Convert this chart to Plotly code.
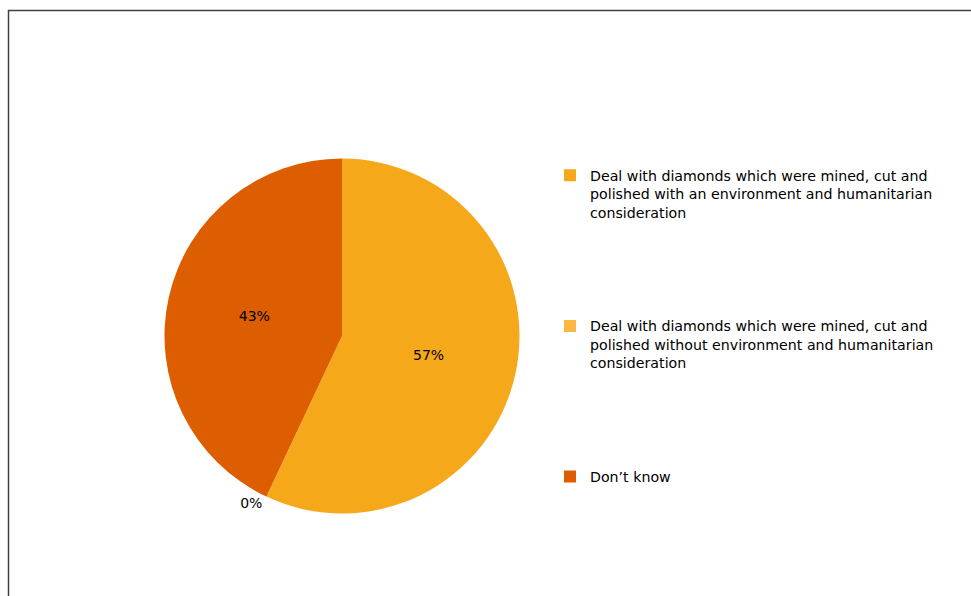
import plotly.graph_objects as go

# Survey answers and their shares (%)
labels = [
    "Deal with diamonds which were mined, cut and<br>polished with an environment and humanitarian<br>consideration",
    "Deal with diamonds which were mined, cut and<br>polished without environment and humanitarian<br>consideration",
    "Don\u2019t know",
]
values = [57, 0, 43]
colors = ["#F5A81A", "#FBB73F", "#DD5E00"]
text_positions = ["inside", "outside", "inside"]

# pad every legend entry but the last with blank lines so the entries sit evenly spaced
legend_lines = 8
legend_names = [
    l + ("<br> " * (legend_lines - 1 - l.count("<br>")) if i < len(labels) - 1 else "")
    for i, l in enumerate(labels)
]

W, H = 971, 596
cx, cy, r = 342, 336, 177.5
FONT = "DejaVu Sans"

fig = go.Figure(
    go.Pie(
        labels=legend_names,
        values=values,
        sort=False,
        direction="clockwise",
        rotation=0,
        marker=dict(colors=colors, line=dict(width=0)),
        texttemplate="%{value}%",
        textposition=text_positions,
        insidetextorientation="horizontal",
        textfont=dict(color="#000000", size=14, family=FONT),
        showlegend=True,
        domain=dict(
            x=[(cx - r) / W, (cx + r) / W],
            y=[(H - cy - r) / H, (H - cy + r) / H],
        ),
        hoverinfo="percent",
    )
)

fig.update_layout(
    width=W,
    height=H,
    margin=dict(l=0, r=0, t=0, b=0),
    paper_bgcolor="white",
    font=dict(family=FONT, size=14, color="#000000"),
    legend=dict(
        x=550 / W,
        y=(H - 159.5) / H,
        xanchor="left",
        yanchor="top",
        valign="top",
        bgcolor="rgba(0,0,0,0)",
        font=dict(size=14.2, family=FONT),
    ),
    shapes=[
        dict(
            type="rect",
            xref="paper",
            yref="paper",
            x0=8.5 / W,
            x1=1.05,
            y0=-0.05,
            y1=(H - 10.5) / H,
            line=dict(color="#404040", width=1.5),
            layer="above",
        )
    ],
)

fig.write_html("out.html")
